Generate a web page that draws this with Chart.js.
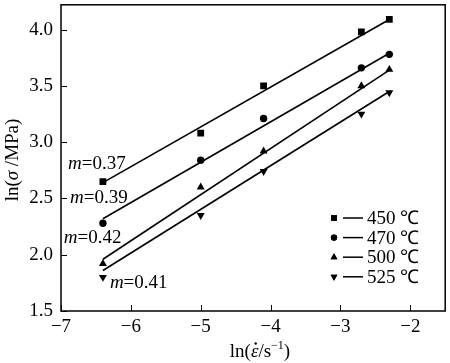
<!DOCTYPE html>
<html>
<head>
<meta charset="utf-8">
<script src="https://cdn.jsdelivr.net/npm/chart.js@4.4.1/dist/chart.umd.min.js"></script>
<style>
  html, body { margin: 0; padding: 0; background: #fff; }
  canvas { display: block; }
</style>
</head>
<body>
<canvas id="chart" width="450" height="363"></canvas>
<script>
// strain rates (ln) and flow stress (ln) per temperature
const rates = [-6.4, -5.0, -4.1, -2.7, -2.3];
const s450 = [2.65, 3.08, 3.50, 3.98, 4.09];
const s470 = [2.28, 2.84, 3.21, 3.66, 3.78];
const s500 = [1.92, 2.60, 2.92, 3.50, 3.645];
const s525 = [1.80, 2.35, 2.74, 3.25, 3.44];

// fitted lines, read at both ends
const fitX = [-6.4, -2.3];
const fit450 = [2.64, 4.09];
const fit470 = [2.32, 3.79];
const fit500 = [1.96, 3.64];
const fit525 = [1.86, 3.45];

const temps = ['450 ℃', '470 ℃', '500 ℃', '525 ℃'];
const slopes = ['0.37', '0.39', '0.42', '0.41'];
const xTicks = [-7, -6, -5, -4, -3, -2];
const yTicks = [1.5, 2.0, 2.5, 3.0, 3.5, 4.0];

const FONT = "'Liberation Serif', 'Times New Roman', serif";
const FS = 19;
const markers = [
  { pointStyle: 'rect', radius: 4.8, rotation: 0 },
  { pointStyle: 'circle', radius: 3.7, rotation: 0 },
  { pointStyle: 'triangle', radius: 4.6, rotation: 0 },
  { pointStyle: 'triangle', radius: 4.6, rotation: 180 }
];

// where the m= labels sit (data coords, left / middle)
const labelAt = [
  { x: -6.90, y: 2.81 },
  { x: -6.87, y: 2.50 },
  { x: -6.96, y: 2.15 },
  { x: -6.30, y: 1.75 }
];

const pts = (xs, ys) => xs.map((x, i) => ({ x: x, y: ys[i] }));
const series = [s450, s470, s500, s525];
const fits = [fit450, fit470, fit500, fit525];

const datasets = [];
series.forEach((s, i) => {
  datasets.push({
    data: pts(rates, s),
    showLine: false,
    pointStyle: markers[i].pointStyle,
    pointRadius: markers[i].radius,
    pointRotation: markers[i].rotation,
    pointBackgroundColor: '#000',
    pointBorderColor: '#000',
    pointBorderWidth: 0
  });
});
fits.forEach(f => {
  datasets.push({
    data: pts(fitX, f),
    showLine: true,
    borderColor: '#000',
    borderWidth: 1.6,
    pointRadius: 0
  });
});

function richText(ctx, parts, x, y, align) {
  let total = 0;
  parts.forEach(p => { ctx.font = p.font; total += ctx.measureText(p.t).width; });
  let cx = align === 'center' ? x - total / 2 : x;
  const pos = [];
  parts.forEach(p => {
    ctx.font = p.font;
    ctx.fillText(p.t, cx, y + (p.dy || 0));
    const w = ctx.measureText(p.t).width;
    pos.push({ x: cx, w: w });
    cx += w;
  });
  return pos;
}

const decor = {
  id: 'decor',
  afterDraw(chart) {
    const ctx = chart.ctx;
    const a = chart.chartArea;
    const xs = chart.scales.x, ys = chart.scales.y;
    ctx.save();
    ctx.strokeStyle = '#000';
    ctx.fillStyle = '#000';
    ctx.lineWidth = 1.5;
    ctx.strokeRect(a.left, a.top, a.right - a.left, a.bottom - a.top);

    // inward ticks
    ctx.lineWidth = 1;
    ctx.beginPath();
    xTicks.forEach(v => {
      const px = Math.round(xs.getPixelForValue(v)) + 0.5;
      ctx.moveTo(px, a.bottom);
      ctx.lineTo(px, a.bottom - 6);
    });
    yTicks.forEach(v => {
      const py = Math.round(ys.getPixelForValue(v)) + 0.5;
      ctx.moveTo(a.left, py);
      ctx.lineTo(a.left + 6, py);
    });
    ctx.stroke();

    const up = FS + 'px ' + FONT, it = 'italic ' + FS + 'px ' + FONT;
    ctx.textBaseline = 'middle';
    ctx.textAlign = 'left';

    // m= labels
    slopes.forEach((m, i) => {
      richText(ctx, [{ t: 'm', font: it }, { t: '=' + m, font: up }],
        xs.getPixelForValue(labelAt[i].x), ys.getPixelForValue(labelAt[i].y), 'left');
    });

    // legend
    temps.forEach((t, i) => {
      const y = 218 + i * 19.6;
      Chart.helpers.drawPoint(ctx, {
        pointStyle: markers[i].pointStyle,
        radius: markers[i].radius * 0.85,
        rotation: markers[i].rotation,
        borderWidth: 0
      }, 334, y);
      ctx.fill();
      ctx.lineWidth = 1.5;
      ctx.beginPath();
      ctx.moveTo(343, y);
      ctx.lineTo(363, y);
      ctx.stroke();
      ctx.font = up;
      ctx.fillText(t, 367, y + 1);
    });

    // axis titles
    ctx.textBaseline = 'alphabetic';
    const pos = richText(ctx, [
      { t: 'ln(', font: up }, { t: 'ε', font: it }, { t: '/s', font: up },
      { t: '−1', font: '12px ' + FONT, dy: -8 }, { t: ')', font: up }
    ], 260, 357, 'center');
    ctx.beginPath();
    ctx.arc(pos[1].x + pos[1].w / 2 + 1, 357 - 13.5, 1.2, 0, Math.PI * 2);
    ctx.fill();

    ctx.translate(18, 160);
    ctx.rotate(-Math.PI / 2);
    richText(ctx, [
      { t: 'ln(', font: up }, { t: 'σ', font: it }, { t: ' /MPa)', font: up }
    ], 0, 0, 'center');
    ctx.restore();
  }
};

const fmt = v => (v < 0 ? '\u2212' + Math.abs(v) : String(v));

new Chart(document.getElementById('chart'), {
  type: 'scatter',
  data: { datasets: datasets },
  options: {
    responsive: false,
    animation: false,
    events: [],
    layout: { padding: { top: 1, right: 2, left: 0, bottom: 0 } },
    plugins: { legend: { display: false }, tooltip: { enabled: false } },
    scales: {
      x: {
        type: 'linear',
        min: -7, max: -1.5,
        afterFit: s => { s.height = 52; s.paddingLeft = 0; s.paddingRight = 0; },
        afterBuildTicks: s => { s.ticks = xTicks.map(v => ({ value: v })); },
        grid: { display: false, drawTicks: false },
        border: { display: false },
        ticks: { color: '#000', padding: 5, font: { family: FONT, size: FS }, callback: fmt }
      },
      y: {
        type: 'linear',
        min: 1.5, max: 4.22,
        afterFit: s => { s.width = 61; s.paddingTop = 0; s.paddingBottom = 0; },
        afterBuildTicks: s => { s.ticks = yTicks.map(v => ({ value: v })); },
        grid: { display: false, drawTicks: false },
        border: { display: false },
        ticks: { color: '#000', padding: 8, font: { family: FONT, size: FS }, callback: v => v.toFixed(1) }
      }
    }
  },
  plugins: [decor]
});
</script>
</body>
</html>
